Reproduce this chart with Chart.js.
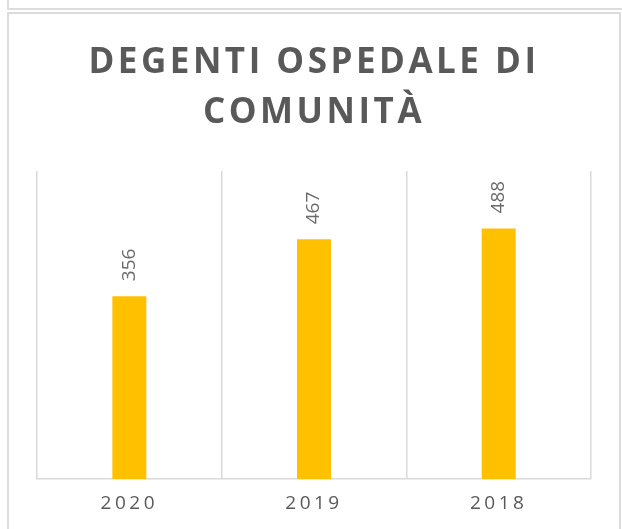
<!DOCTYPE html>
<html>
<head>
<meta charset="utf-8">
<script src="https://cdn.jsdelivr.net/npm/chart.js@4"></script>
<style>
  html, body { margin: 0; padding: 0; background: #fff; }
  body { width: 622px; height: 529px; position: relative; overflow: hidden; }
  #prev { position: absolute; left: 7px; top: -30px; width: 640px; height: 36px; border: 2px solid #dcdcdc; }
  #frame { position: absolute; left: 7px; top: 12px; width: 610px; height: 600px; border: 2px solid #dcdcdc; }
  #wrap { position: absolute; left: 0; top: 0; width: 622px; height: 529px; }
</style>
</head>
<body>
<div id="prev"></div>
<div id="frame"></div>
<div id="wrap"><canvas id="chart" width="622" height="529"></canvas></div>
<script>
const titleLines = ["DEGENTI OSPEDALE DI", "COMUNITÀ"];
const years = ["2020", "2019", "2018"];
const patients = [356, 467, 488];
const yMax = 600;

const BAR_COLOR = "#FFC000";
const TEXT_GRAY = "#595959";
const GRID_GRAY = "#d9d9d9";

// letter spacing for title / axis text (canvas ctx.letterSpacing)
const spacingPlugin = {
  id: "spacing",
  beforeDraw(chart) {
    chart.ctx.letterSpacing = "3.5px";
  },
  beforeDatasetsDraw(chart) {
    chart.ctx.letterSpacing = "0px";
  }
};

// valori ruotati sopra le barre
const barLabels = {
  id: "barLabels",
  afterDatasetsDraw(chart) {
    const ctx = chart.ctx;
    const meta = chart.getDatasetMeta(0);
    ctx.save();
    ctx.letterSpacing = "0px";
    ctx.fillStyle = "#6a6a6a";
    ctx.font = "19px 'Open Sans'";
    ctx.textAlign = "left";
    ctx.textBaseline = "middle";
    meta.data.forEach((bar, i) => {
      ctx.save();
      ctx.translate(bar.x, bar.y - 15);
      ctx.rotate(-Math.PI / 2);
      ctx.fillText(String(patients[i]), 0, 0);
      ctx.restore();
    });
    ctx.restore();
  }
};

new Chart(document.getElementById("chart"), {
  type: "bar",
  data: {
    labels: years,
    datasets: [{
      data: patients,
      backgroundColor: BAR_COLOR,
      borderWidth: 0,
      categoryPercentage: 1,
      barPercentage: 0.184
    }]
  },
  options: {
    responsive: false,
    animation: false,
    layout: { padding: { left: 37, right: 31, top: 0, bottom: 1 } },
    scales: {
      x: {
        grid: { color: GRID_GRAY, lineWidth: 1.5, drawTicks: false, offset: true },
        border: { color: GRID_GRAY, width: 1.5 },
        ticks: {
          color: TEXT_GRAY,
          font: { family: "'Open Sans'", size: 19, lineHeight: 0.9 },
          padding: 16
        }
      },
      y: { display: false, min: 0, max: yMax }
    },
    plugins: {
      legend: { display: false },
      tooltip: { enabled: false },
      title: {
        display: true,
        text: titleLines,
        color: TEXT_GRAY,
        font: { family: "'Open Sans'", size: 35, weight: "bold", lineHeight: 50 / 35 },
        padding: { top: 38, bottom: 33 }
      }
    }
  },
  plugins: [spacingPlugin, barLabels]
});
</script>
</body>
</html>
